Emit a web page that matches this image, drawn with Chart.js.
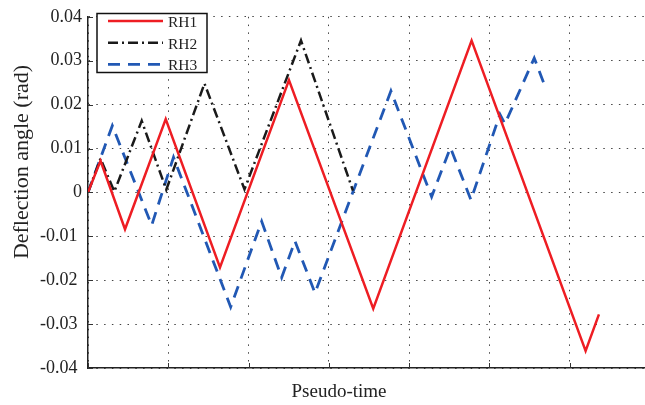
<!DOCTYPE html>
<html lang="en">
<head>
<meta charset="UTF-8">
<title>Deflection angle vs pseudo-time</title>
<style>
  html, body { margin: 0; padding: 0; background: #fff; overflow: hidden; }
  #wrap { width: 645px; height: 405px; overflow: hidden; }
</style>
<script src="https://cdn.jsdelivr.net/npm/chart.js"></script>
</head>
<body>
<div id="wrap"><canvas id="defChart" width="660" height="405"></canvas></div>
<script>
// pseudo-time positions (1 unit = one vertical grid step) and deflection angles (rad)
const rh1X = [0, 0.156, 0.461, 0.968, 1.644, 2.503, 3.553, 4.778, 6.198, 6.364];
const rh1Y = [0, 0.0072, -0.0084, 0.0167, -0.0171, 0.0256, -0.0265, 0.0346, -0.0361, -0.0278];

const rh2X = [0, 0.156, 0.328, 0.669, 0.975, 1.451, 1.949, 2.653, 3.300];
const rh2Y = [0, 0.0077, 0.0002, 0.0163, 0.0006, 0.0248, 0.0007, 0.0346, 0.0004];

const rh3X = [0, 0.303, 0.793, 1.065, 1.777, 2.163, 2.412, 2.578, 2.827, 3.773, 4.280, 4.514, 4.770, 5.131, 5.193, 5.558, 5.691];
const rh3Y = [0, 0.0152, -0.0075, 0.0080, -0.0261, -0.0066, -0.0194, -0.0111, -0.0229, 0.0231, -0.0010, 0.0102, -0.0017, 0.0178, 0.0156, 0.0306, 0.0242];

const seriesNames = ['RH1', 'RH2', 'RH3'];
const yTickValues = [-0.04, -0.03, -0.02, -0.01, 0, 0.01, 0.02, 0.03, 0.04];
const yTickLabels = ['-0.04 ', '-0.03 ', '-0.02 ', '-0.01 ', '0', '0.01', '0.02', '0.03', '0.04'];
const xTickValues = [0, 1, 2, 3, 4, 5, 6, 7];
const yTitle = 'Deflection angle (rad)';
const xTitle = 'Pseudo-time';

const serif = '"Liberation Serif", "Times New Roman", serif';

function pts(xs, ys) {
    return xs.map((x, i) => ({ x: x, y: ys[i] }));
}

// inner tick marks, axis titles and the boxed legend
const decorations = {
    id: 'decorations',
    afterDraw(chart) {
        const ctx = chart.ctx;
        const xs = chart.scales.x, ys = chart.scales.y;
        const area = chart.chartArea;
        ctx.save();
        ctx.strokeStyle = '#333';
        ctx.lineWidth = 1;
        ctx.beginPath();
        yTickValues.forEach(v => {
            const py = Math.round(ys.getPixelForValue(v)) + 0.5;
            ctx.moveTo(area.left, py);
            ctx.lineTo(area.left + 5, py);
        });
        xTickValues.forEach(v => {
            const px = Math.round(xs.getPixelForValue(v)) + 0.5;
            ctx.moveTo(px, area.bottom);
            ctx.lineTo(px, area.bottom - 5);
        });
        ctx.stroke();

        ctx.fillStyle = '#222';
        ctx.font = '19px ' + serif;
        ctx.textAlign = 'center';
        ctx.textBaseline = 'alphabetic';
        ctx.fillText(xTitle, 339, 397);

        ctx.save();
        ctx.translate(28, 162);
        ctx.rotate(-Math.PI / 2);
        ctx.font = '22px ' + serif;
        ctx.fillText(yTitle, 0, 0);
        ctx.restore();

        const lx = 97, ly = 13.5, lw = 110, lh = 59;
        ctx.fillStyle = '#fff';
        ctx.fillRect(lx, ly, lw, lh);
        ctx.strokeStyle = '#111';
        ctx.lineWidth = 1.5;
        ctx.strokeRect(lx, ly, lw, lh);
        chart.data.datasets.forEach((ds, i) => {
            const y = 21 + i * 21.7;
            ctx.strokeStyle = ds.borderColor;
            ctx.lineWidth = ds.borderWidth;
            ctx.setLineDash(ds.borderDash || []);
            ctx.beginPath();
            ctx.moveTo(108, y);
            ctx.lineTo(163, y);
            ctx.stroke();
            ctx.setLineDash([]);
            ctx.fillStyle = '#222';
            ctx.font = '15.5px ' + serif;
            ctx.textAlign = 'left';
            ctx.textBaseline = 'alphabetic';
            ctx.fillText(ds.label, 168, y + 6);
        });
        ctx.restore();
    }
};

const gridStyle = { color: '#444', lineWidth: 1, drawTicks: false };
const borderStyle = { display: true, color: '#222', width: 1.5, dash: [1.5, 6.3] };

new Chart(document.getElementById('defChart'), {
    type: 'line',
    data: {
        datasets: [
            { label: seriesNames[0], data: pts(rh1X, rh1Y), borderColor: '#ee1d23', borderWidth: 2.5 },
            { label: seriesNames[1], data: pts(rh2X, rh2Y), borderColor: '#1a1a1a', borderWidth: 2.5, borderDash: [10, 4, 2, 4] },
            { label: seriesNames[2], data: pts(rh3X, rh3Y), borderColor: '#2158b4', borderWidth: 2.8, borderDash: [12, 8] }
        ]
    },
    options: {
        responsive: false,
        animation: false,
        layout: { padding: { top: 13, right: 10, left: 0, bottom: 0 } },
        elements: { point: { radius: 0 }, line: { tension: 0, fill: false } },
        plugins: { legend: { display: false }, tooltip: { enabled: false } },
        scales: {
            x: {
                type: 'linear',
                min: 0,
                max: 7,
                ticks: { display: false, stepSize: 1 },
                grid: gridStyle,
                border: borderStyle,
                afterFit(s) { s.height = 37; }
            },
            y: {
                min: -0.04,
                max: 0.04,
                ticks: {
                    stepSize: 0.01,
                    padding: 6,
                    color: '#222',
                    font: { family: serif, size: 18 },
                    callback: v => yTickLabels[Math.round((v + 0.04) / 0.01)]
                },
                grid: gridStyle,
                border: borderStyle,
                afterFit(s) { s.width = 88; }
            }
        }
    },
    plugins: [decorations]
});
</script>
</body>
</html>
